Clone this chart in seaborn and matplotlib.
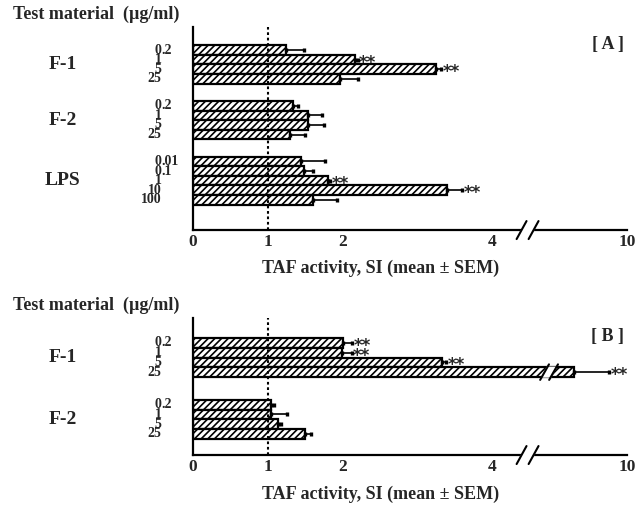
import matplotlib
matplotlib.use("Agg")
import matplotlib.pyplot as plt
import matplotlib.transforms as mtrans
import numpy as np
import pandas as pd
import seaborn as sb

# panel A
conc_f = ["0.2", "1", "5", "25"]
conc_lps = ["0.01", "0.1", "1", "10", "100"]

a_f1_mean = [1.24, 2.17, 3.25, 1.97]
a_f1_sem = [0.24, 0.03, 0.07, 0.23]
a_f1_sig = ["", "**", "**", ""]

a_f2_mean = [1.33, 1.53, 1.53, 1.29]
a_f2_sem = [0.07, 0.19, 0.22, 0.21]
a_f2_sig = ["", "", "", ""]

a_lps_mean = [1.44, 1.48, 1.80, 3.39, 1.60]
a_lps_sem = [0.33, 0.12, 0.03, 0.21, 0.32]
a_lps_sig = ["", "", "**", "**", ""]

# panel B
b_f1_mean = [2.00, 1.99, 3.33, 7.0]
b_f1_sem = [0.13, 0.13, 0.05, 2.0]
b_f1_sig = ["**", "**", "**", "**"]

b_f2_mean = [1.04, 1.04, 1.13, 1.50]
b_f2_sem = [0.04, 0.21, 0.05, 0.08]
b_f2_sig = ["", "", "", ""]

xticks = [0, 1, 2, 3, 4, 10]
xticklabels = ["0", "1", "2", "", "4", "10"]

sb.set_style("white")
plt.rcParams["font.family"] = ["Liberation Serif", "DejaVu Serif"]
plt.rcParams["font.weight"] = "bold"
plt.rcParams["hatch.linewidth"] = 1.2

BREAK = 4.5
K = 1.3 / 5.5  # compression after the axis break


def fwd(v):
    v = np.asarray(v, dtype=float)
    return np.where(v <= BREAK, v, BREAK + (v - BREAK) * K)


def inv(v):
    v = np.asarray(v, dtype=float)
    return np.where(v <= BREAK, v, BREAK + (v - BREAK) / K)


def slash_pair(ax, xf, yc, half_h_px, sep_px, on_data=False):
    # two parallel "/" marks with a white gap between them
    bb = ax.get_position()
    w_px = bb.width * fig.get_figwidth() * fig.dpi
    h_px = bb.height * fig.get_figheight() * fig.dpi
    dx = 0.55 * half_h_px / w_px
    sep = sep_px / w_px
    if on_data:
        tr = mtrans.blended_transform_factory(ax.transAxes, ax.transData)
        dy = 0.8
        y0, y1 = yc + dy, yc - dy
        gy0, gy1 = yc + 0.5, yc - 0.5
    else:
        tr = ax.transAxes
        dy = half_h_px / h_px
        y0, y1 = yc - dy, yc + dy
        gy0, gy1 = yc - 0.6 * dy, yc + 0.6 * dy
    ax.fill([xf - dx * 0.6, xf + dx * 0.6, xf + sep + dx * 0.6, xf + sep - dx * 0.6],
            [gy0, gy1, gy1, gy0], color="white", transform=tr, clip_on=False, zorder=6)
    for x0 in [xf, xf + sep]:
        ax.plot([x0 - dx, x0 + dx], [y0, y1], color="black", lw=1.5,
                transform=tr, clip_on=False, zorder=7)


def panel(ax, groups, top, gap, total, tag):
    rows = []
    centers = []
    y = top
    for name, concs, means, sems, sigs in groups:
        start = y
        for c, m, s, g in zip(concs, means, sems, sigs):
            rows.append([name, c, y + 0.5, m, s, g])
            y += 1
        centers.append((name, (start + y) / 2))
        y += gap
    df = pd.DataFrame(rows, columns=["group", "conc", "pos", "mean", "sem", "sig"])

    sb.barplot(data=df, x="mean", y="pos", orient="y", native_scale=True, width=1,
               errorbar=None, color="white", edgecolor="black", linewidth=1.6,
               hatch="/////", ax=ax)
    ax.errorbar(df["mean"], df["pos"], xerr=[np.zeros(len(df)), df["sem"]], fmt="none",
                ecolor="black", elinewidth=1.2, capsize=1.6, capthick=2.4, zorder=4)
    for _, r in df.iterrows():
        if r["sig"]:
            ax.annotate(r["sig"], (r["mean"] + r["sem"], r["pos"]), xytext=(1, -2.2),
                        textcoords="offset points", ha="left", va="center",
                        fontsize=12, fontweight="bold", family="DejaVu Sans")
    ax.axvline(1, color="black", ls=(0, (1.3, 1.3)), lw=1.5, zorder=5)

    ax.set_xscale("function", functions=(fwd, inv))
    ax.set_xlim(0, 10)
    ax.set_ylim(total, 0)
    ax.set_xticks(xticks)
    ax.set_xticklabels(xticklabels, fontsize=12.5, fontweight="bold")
    ax.set_yticks([])
    ax.set_ylabel("")
    ax.set_xlabel("")
    ax.tick_params(axis="x", direction="in", length=4, width=1.3, pad=3)
    for sp in ["top", "right"]:
        ax.spines[sp].set_visible(False)
    for sp in ["left", "bottom"]:
        ax.spines[sp].set_linewidth(1.6)
        ax.spines[sp].set_color("black")

    ytr = mtrans.blended_transform_factory(ax.transAxes, ax.transData)
    for name, yc in centers:
        ax.text(-0.30, yc, name, transform=ytr, ha="center", va="center",
                fontsize=14, fontweight="bold")
    for _, r in df.iterrows():
        ip, _, fr = r["conc"].partition(".")
        ax.text(-0.073, r["pos"], ip, transform=ytr, ha="right", va="center",
                fontsize=10, fontweight="bold")
        if fr:
            ax.text(-0.073, r["pos"], "." + fr, transform=ytr, ha="left", va="center",
                    fontsize=10, fontweight="bold")
    h_px = ax.get_position().height * 509
    ax.text(0.992, 1 - 18 / h_px, tag, transform=ax.transAxes, ha="right", va="center",
            fontsize=13, fontweight="bold")
    slash_pair(ax, 0.757, 0.0, 9, 12)
    return df


fig = plt.figure(figsize=(6.36, 5.09), dpi=100)
ax_a = fig.add_axes([0.3035, 0.548, 0.6824, 0.399])
ax_b = fig.add_axes([0.3035, 0.106, 0.6824, 0.269])

panel(ax_a, [("F-1", conc_f, a_f1_mean, a_f1_sem, a_f1_sig),
             ("F-2", conc_f, a_f2_mean, a_f2_sem, a_f2_sig),
             ("LPS", conc_lps, a_lps_mean, a_lps_sem, a_lps_sig)],
      top=1.9, gap=1.8, total=21.15, tag="[ A ]")
df_b = panel(ax_b, [("F-1", conc_f, b_f1_mean, b_f1_sem, b_f1_sig),
                    ("F-2", conc_f, b_f2_mean, b_f2_sem, b_f2_sig)],
             top=2.06, gap=2.35, total=14.1, tag="[ B ]")

# break on the long F-1 25 bar in panel B
slash_pair(ax_b, 0.81, df_b["pos"].iloc[3], 8.0, 9, on_data=True)

label = "TAF activity, SI (mean \u00b1 SEM)"
fig.text(381 / 636, 1 - 268 / 509, label, ha="center", va="center", fontsize=13, fontweight="bold")
fig.text(381 / 636, 1 - 494 / 509, label, ha="center", va="center", fontsize=13, fontweight="bold")

title = "Test material  (\u00b5g/ml)"
fig.text(0.02, 1 - 14 / 509, title, ha="left", va="center", fontsize=13, fontweight="bold")
fig.text(0.02, 1 - 305 / 509, title, ha="left", va="center", fontsize=13, fontweight="bold")

plt.savefig("out.png", dpi=100)
